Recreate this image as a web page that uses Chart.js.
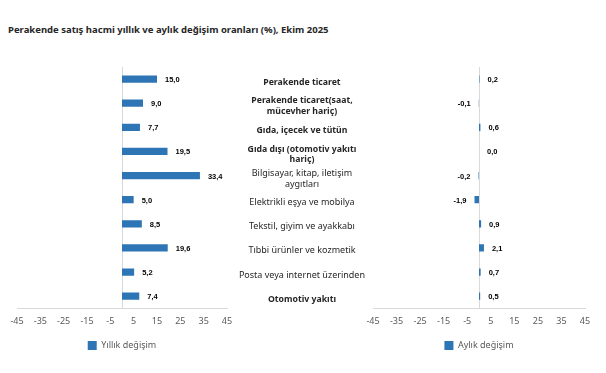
<!DOCTYPE html>
<html>
<head>
<meta charset="utf-8">
<script src="https://cdn.jsdelivr.net/npm/chart.js@4/dist/chart.umd.min.js"></script>
<style>
  body { margin: 0; background: #fff; width: 606px; height: 373px; overflow: hidden; position: relative; font-family: "Noto Sans", sans-serif; }
  #title { position: absolute; left: 8px; top: 23px; font-size: 9.5px; font-weight: bold; color: #262626; white-space: nowrap; }
  #leftBox { position: absolute; left: 0; top: 0; width: 244px; height: 373px; }
  #rightBox { position: absolute; left: 234px; top: 0; width: 372px; height: 373px; }
</style>
</head>
<body>
<div id="title">Perakende satış hacmi yıllık ve aylık değişim oranları (%), Ekim 2025</div>
<div id="leftBox"><canvas id="yearlyChart"></canvas></div>
<div id="rightBox"><canvas id="monthlyChart"></canvas></div>
<script>
const categories = [
    'Perakende ticaret',
    ['Perakende ticaret(saat,', 'mücevher hariç)'],
    'Gıda, içecek ve tütün',
    ['Gıda dışı (otomotiv yakıtı', 'hariç)'],
    ['Bilgisayar, kitap, iletişim', 'aygıtları'],
    'Elektrikli eşya ve mobilya',
    'Tekstil, giyim ve ayakkabı',
    'Tıbbi ürünler ve kozmetik',
    'Posta veya internet üzerinden',
    'Otomotiv yakıtı'
];
const boldCategories = [0, 1, 2, 3, 9];
const yearlyValues = [15.0, 9.0, 7.7, 19.5, 33.4, 5.0, 8.5, 19.6, 5.2, 7.4];
const monthlyValues = [0.2, -0.1, 0.6, 0.0, -0.2, -1.9, 0.9, 2.1, 0.7, 0.5];
const xTicks = [-45, -35, -25, -15, -5, 5, 15, 25, 35, 45];

const barColor = '#2E75B6';
const lineColor = '#D9D9D9';

// zero line + value labels
const barExtras = {
    id: 'barExtras',
    beforeDatasetsDraw(chart) {
        const { ctx, chartArea, scales } = chart;
        const x0 = Math.round(scales.x.getPixelForValue(0)) + 0.5;
        ctx.save();
        ctx.strokeStyle = lineColor;
        ctx.lineWidth = 1;
        ctx.beginPath();
        ctx.moveTo(x0, chartArea.top);
        ctx.lineTo(x0, chartArea.bottom);
        ctx.stroke();
        ctx.restore();
    },
    afterDatasetsDraw(chart) {
        const { ctx } = chart;
        const meta = chart.getDatasetMeta(0);
        const values = chart.data.datasets[0].data;
        ctx.save();
        ctx.font = 'bold 7.5px "Liberation Sans", Arial, sans-serif';
        ctx.fillStyle = '#000';
        ctx.textBaseline = 'middle';
        meta.data.forEach((bar, i) => {
            const v = values[i];
            const text = v.toFixed(1).replace('.', ',');
            if (v < 0) {
                ctx.textAlign = 'right';
                ctx.fillText(text, bar.x - 8, bar.y + 1);
            } else {
                ctx.textAlign = 'left';
                ctx.fillText(text, bar.x + 8, bar.y + 1);
            }
        });
        ctx.restore();
    }
};

function makeOptions(showLabels) {
    return {
        indexAxis: 'y',
        responsive: true,
        maintainAspectRatio: false,
        animation: false,
        layout: {
            padding: showLabels ? { top: 67, right: 21, bottom: 13, left: 0 } : { top: 67, right: 17, bottom: 13, left: 17 }
        },
        plugins: {
            title: { display: false },
            tooltip: { enabled: false },
            legend: {
                position: 'bottom',
                fullSize: false,
                labels: {
                    boxWidth: 9,
                    boxHeight: 9,
                    padding: 6,
                    color: '#595959',
                    font: { family: '"Noto Sans", sans-serif', size: 9 }
                }
            }
        },
        scales: {
            x: {
                min: -45,
                max: 45,
                afterBuildTicks: scale => { scale.ticks = xTicks.map(v => ({ value: v })); },
                grid: { display: false, drawTicks: false },
                border: { display: true, color: lineColor },
                ticks: {
                    padding: 8,
                    color: '#595959',
                    font: { family: '"Noto Sans", sans-serif', size: 9 }
                }
            },
            y: {
                display: showLabels,
                grid: { display: false, drawTicks: false },
                border: { display: false },
                afterFit: scale => { if (showLabels) scale.width = 139; },
                ticks: {
                    autoSkip: false,
                    crossAlign: 'center',
                    padding: 8,
                    labelOffset: 3,
                    color: '#262626',
                    font: ctx => boldCategories.includes(ctx.index)
                        ? { family: '"Noto Sans", sans-serif', size: 8.7, weight: 'bold' }
                        : { family: '"Noto Sans", sans-serif', size: 9, weight: 'normal' }
                }
            }
        }
    };
}

new Chart(document.getElementById('yearlyChart').getContext('2d'), {
    type: 'bar',
    data: {
        labels: categories,
        datasets: [{
            label: 'Yıllık değişim',
            data: yearlyValues,
            backgroundColor: barColor,
            barPercentage: 0.6,
            categoryPercentage: 0.5
        }]
    },
    options: makeOptions(false),
    plugins: [barExtras]
});

new Chart(document.getElementById('monthlyChart').getContext('2d'), {
    type: 'bar',
    data: {
        labels: categories,
        datasets: [{
            label: 'Aylık değişim',
            data: monthlyValues,
            backgroundColor: barColor,
            barPercentage: 0.6,
            categoryPercentage: 0.5
        }]
    },
    options: makeOptions(true),
    plugins: [barExtras]
});
</script>
</body>
</html>
